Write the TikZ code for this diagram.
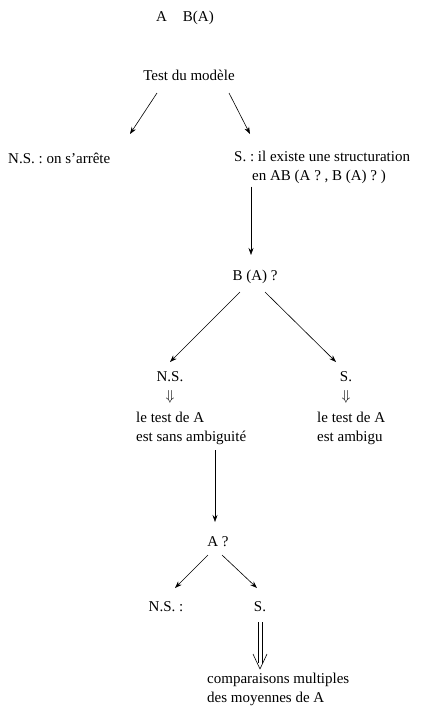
\documentclass[tikz,border=0pt]{standalone}
\usepackage{fontspec}
\setmainfont{Liberation Serif}
\usetikzlibrary{arrows.meta}
\begin{document}
\begin{tikzpicture}[x=1pt,y=1pt,
  lbl/.style={inner sep=0pt, font=\fontsize{15}{19}\selectfont},
  blk/.style={lbl, align=left, anchor=west},
  arr/.style={-{Stealth[length=7pt,width=5pt]}, line width=0.6pt},
  dstem/.style={line width=0.6pt}]
\useasboundingbox (0,0) rectangle (423,-715);
\node[lbl] (top) at (185,-18) {A\hspace{16pt}B(A)};
\node[lbl] (test) at (189,-75) {Test du modèle};
\node[lbl, anchor=west] (ns1) at (8,-158) {N.S.\ :\ on s'arrête};
\node[blk] (s1) at (234,-167.5) {S.\ :\ il existe une structuration\\\hspace*{18pt}en AB (A ? , B (A) ? )};
\node[lbl] (bq) at (255,-277) {B (A) ?};
\node[lbl] (nsb) at (170,-377) {N.S.};
\node[lbl] (dl) at (170,-397) {$\Downarrow$};
\node[blk] (tl) at (136,-428) {le test de A\\est sans ambiguité};
\node[lbl] (sb) at (346,-377) {S.};
\node[lbl] (dr) at (346,-397) {$\Downarrow$};
\node[blk] (tr) at (317,-428) {le test de A\\est ambigu};
\node[lbl] (aq) at (218,-542) {A ?};
\node[lbl] (nsa) at (166,-607) {N.S. :};
\node[lbl] (sa) at (260,-607) {S.};
\node[blk] (comp) at (207,-689) {comparaisons multiples\\des moyennes de A};
\draw[arr] ([shift={(-32,-18)}]test.center) -- ([shift={(122,24)}]ns1.west);
\draw[arr] ([shift={(40,-18)}]test.center) -- ([shift={(16,33.5)}]s1.west);
\draw[arr] ([shift={(17,-19)}]s1.west) -- ([shift={(-4,22)}]bq.center);
\draw[arr] ([shift={(-15,-15)}]bq.center) -- ([shift={(0,15)}]nsb.center);
\draw[arr] ([shift={(10,-15)}]bq.center) -- ([shift={(-10,15)}]sb.center);
\draw[arr] ([shift={(79,-22)}]tl.west) -- ([shift={(-3,20)}]aq.center);
\draw[arr] ([shift={(-10,-13)}]aq.center) -- ([shift={(9,19)}]nsa.center);
\draw[arr] ([shift={(4,-13)}]aq.center) -- ([shift={(-3,19)}]sa.center);
% long double arrow
\draw[dstem] ([shift={(-2,-15)}]sa.center) -- ([shift={(-2,-56)}]sa.center);
\draw[dstem] ([shift={(2,-15)}]sa.center) -- ([shift={(2,-56)}]sa.center);
\draw[dstem, line join=round] ([shift={(-7,-47)}]sa.center) -- ([shift={(0,-62)}]sa.center) -- ([shift={(7,-47)}]sa.center);
\end{tikzpicture}
\end{document}
